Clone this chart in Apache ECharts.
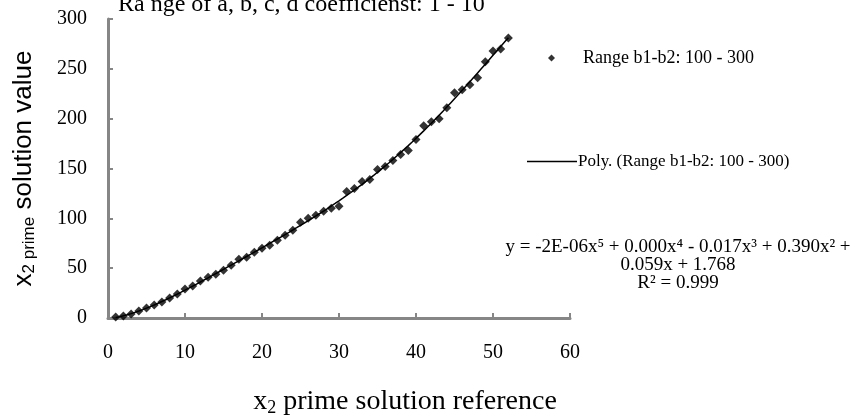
<!DOCTYPE html>
<html>
<head>
<meta charset="utf-8">
<script src="https://cdn.jsdelivr.net/npm/echarts@6/dist/echarts.min.js"></script>
<style>
  html, body { margin: 0; padding: 0; background: #fff; }
  #chart { width: 862px; height: 416px; }
</style>
</head>
<body>
<div id="chart"></div>
<script>
  // x2 prime solution reference (1..52)
  var xRef = [1, 2, 3, 4, 5, 6, 7, 8, 9, 10, 11, 12, 13, 14, 15, 16, 17, 18, 19, 20,
    21, 22, 23, 24, 25, 26, 27, 28, 29, 30, 31, 32, 33, 34, 35, 36, 37, 38, 39, 40,
    41, 42, 43, 44, 45, 46, 47, 48, 49, 50, 51, 52];
  // x2 prime solution value
  var solValue = [1, 2, 4, 7, 10, 13, 16, 20, 24, 29, 32, 37, 41, 44, 48, 53, 59, 61, 66, 70,
    73, 78, 83, 88, 96, 100, 103, 107, 110, 112, 127, 130, 137, 139, 149, 152, 158, 164, 168, 179,
    193, 197, 200, 211, 226, 229, 234, 241, 257, 268, 270, 281];

  var seriesName = 'Range b1-b2: 100 - 300';
  var trendName = 'Poly. (Range b1-b2: 100 - 300)';
  var equationLines = [
    'y = -2E-06x\u2075 + 0.000x\u2074 - 0.017x\u00b3 + 0.390x\u00b2 +',
    '0.059x + 1.768',
    'R\u00b2 = 0.999'
  ];

  // 5th order least squares fit, same as the Excel trendline
  function polyFit(xs, ys, deg) {
    var s = 52, n = deg + 1, i, j, k;
    var A = [], b = [];
    for (i = 0; i < n; i++) { A.push(new Array(n).fill(0)); b.push(0); }
    for (k = 0; k < xs.length; k++) {
      var t = xs[k] / s;
      for (i = 0; i < n; i++) {
        b[i] += Math.pow(t, i) * ys[k];
        for (j = 0; j < n; j++) A[i][j] += Math.pow(t, i + j);
      }
    }
    for (i = 0; i < n; i++) {
      var p = i;
      for (j = i + 1; j < n; j++) if (Math.abs(A[j][i]) > Math.abs(A[p][i])) p = j;
      var tmp = A[i]; A[i] = A[p]; A[p] = tmp;
      var tb = b[i]; b[i] = b[p]; b[p] = tb;
      for (j = i + 1; j < n; j++) {
        var f = A[j][i] / A[i][i];
        for (k = i; k < n; k++) A[j][k] -= f * A[i][k];
        b[j] -= f * b[i];
      }
    }
    var c = new Array(n).fill(0);
    for (i = n - 1; i >= 0; i--) {
      var sum = b[i];
      for (j = i + 1; j < n; j++) sum -= A[i][j] * c[j];
      c[i] = sum / A[i][i];
    }
    return function (x) {
      var t = x / s, v = 0;
      for (var m = 0; m < n; m++) v += c[m] * Math.pow(t, m);
      return v;
    };
  }

  var fit = polyFit(xRef, solValue, 5);
  var points = xRef.map(function (x, i) { return [x, solValue[i]]; });
  var trend = [];
  for (var x = xRef[0]; x <= xRef[xRef.length - 1] + 1e-9; x += 0.5) {
    trend.push([x, fit(x)]);
  }

  var serif = 'Liberation Serif';
  var axisGrey = '#868686';

  var chart = echarts.init(document.getElementById('chart'));
  chart.setOption({
    animation: false,
    title: {
      text: 'Ra nge of a, b, c, d coefficienst: 1 - 10',
      left: 113,
      top: -12,
      textStyle: { fontFamily: serif, fontSize: 24, fontWeight: 'normal', color: '#000' }
    },
    grid: { left: 108, right: 292, top: 19, bottom: 98, outerBoundsMode: 'none' },
    legend: [
      {
        data: [{ name: seriesName, icon: 'diamond' }],
        left: 548,
        top: 49,
        padding: 0,
        itemWidth: 7,
        itemHeight: 7,
        textStyle: { fontFamily: serif, fontSize: 18, color: '#000', padding: [0, 0, 0, 23] }
      },
      {
        data: [{ name: trendName, icon: 'rect' }],
        left: 527,
        top: 153,
        padding: 0,
        itemWidth: 50,
        itemHeight: 1.5,
        textStyle: { fontFamily: serif, fontSize: 17, color: '#000', padding: [0, 0, 0, -4] }
      }
    ],
    xAxis: {
      type: 'value',
      min: 0,
      max: 60,
      interval: 10,
      name: '{a|x}{s|2}{a| prime solution reference}',
      nameLocation: 'middle',
      nameGap: 69,
      nameTextStyle: {
        padding: [0, 0, 0, 132],
        rich: {
          a: { fontFamily: serif, fontSize: 28, color: '#000' },
          s: { fontFamily: serif, fontSize: 18, color: '#000', padding: [12, 0, 0, 0] }
        }
      },
      splitLine: { show: false },
      axisLine: { lineStyle: { color: axisGrey, width: 3 } },
      axisTick: { inside: true, length: 5, lineStyle: { color: axisGrey, width: 2 } },
      axisLabel: { margin: 25, fontFamily: serif, fontSize: 20, color: '#000' }
    },
    yAxis: {
      type: 'value',
      min: 0,
      max: 300,
      interval: 50,
      name: '{a|x}{s|2 prime}{a| solution value}',
      nameLocation: 'middle',
      nameGap: 70,
      nameTextStyle: {
        rich: {
          a: { fontFamily: 'Liberation Sans', fontSize: 26, color: '#000' },
          s: { fontFamily: 'Liberation Sans', fontSize: 17, color: '#000', padding: [12, 0, 0, 0] }
        }
      },
      splitLine: { show: false },
      axisLine: { lineStyle: { color: axisGrey, width: 3 } },
      axisTick: { inside: true, length: 5, lineStyle: { color: axisGrey, width: 2 } },
      axisLabel: { margin: 21, fontFamily: serif, fontSize: 20, color: '#000' }
    },
    series: [
      {
        name: seriesName,
        type: 'scatter',
        symbol: 'diamond',
        symbolSize: 9,
        itemStyle: { color: '#000' },
        data: points,
        z: 3
      },
      {
        name: trendName,
        type: 'line',
        symbol: 'none',
        lineStyle: { color: '#000', width: 1.5 },
        itemStyle: { color: '#000' },
        data: trend,
        z: 2
      }
    ],
    graphic: [
      {
        type: 'text',
        x: 678,
        y: 238,
        style: {
          text: equationLines.join('\n'),
          align: 'center',
          fontFamily: serif,
          fontSize: 19,
          lineHeight: 18,
          fill: '#000'
        }
      }
    ]
  });
</script>
</body>
</html>
